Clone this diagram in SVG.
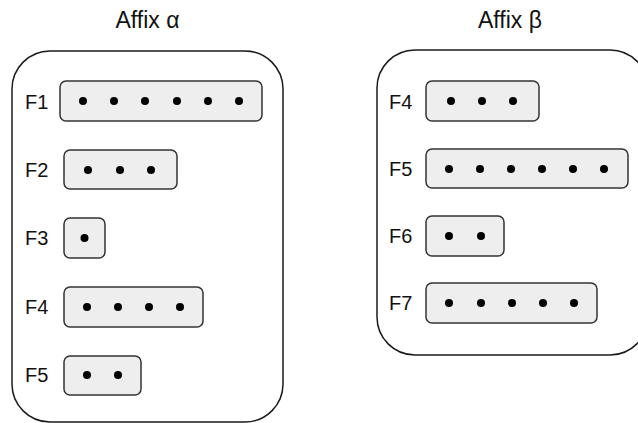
<svg xmlns="http://www.w3.org/2000/svg" width="638" height="423" viewBox="0 0 638 423">
<style>
.cont{fill:#ffffff;stroke:#1a1a1a;stroke-width:1.5}
.box{fill:#eeeeee;stroke:#333333;stroke-width:1.5}
.dot{fill:#000000}
.lbl{font-family:"Liberation Sans",Arial,sans-serif;font-size:20px;fill:#111111}
.ttl{font-family:"Liberation Sans",Arial,sans-serif;font-size:23px;fill:#111111;text-anchor:middle}
</style>
<rect width="638" height="423" fill="#ffffff"/>
<g id="affix-alpha">
<text class="ttl" x="147.5" y="28">Affix α</text>
<rect class="cont" x="12" y="51" width="271" height="371" rx="38" ry="38"/>
<g id="alpha-F1">
<text class="lbl" x="25" y="109">F1</text>
<rect class="box" x="60" y="81" width="202" height="40" rx="6"/>
<circle class="dot" cx="83" cy="101" r="4"/><circle class="dot" cx="114" cy="101" r="4"/><circle class="dot" cx="145" cy="101" r="4"/><circle class="dot" cx="177" cy="101" r="4"/><circle class="dot" cx="208" cy="101" r="4"/><circle class="dot" cx="239" cy="101" r="4"/>
</g>
<g id="alpha-F2">
<text class="lbl" x="25" y="177">F2</text>
<rect class="box" x="64" y="150" width="113" height="39" rx="6"/>
<circle class="dot" cx="88" cy="170" r="4"/><circle class="dot" cx="120" cy="170" r="4"/><circle class="dot" cx="151" cy="170" r="4"/>
</g>
<g id="alpha-F3">
<text class="lbl" x="25" y="245">F3</text>
<rect class="box" x="64" y="218" width="41" height="40" rx="6"/>
<circle class="dot" cx="84.5" cy="238" r="4"/>
</g>
<g id="alpha-F4">
<text class="lbl" x="25" y="314">F4</text>
<rect class="box" x="64" y="287" width="139" height="40" rx="6"/>
<circle class="dot" cx="87" cy="307" r="4"/><circle class="dot" cx="118" cy="307" r="4"/><circle class="dot" cx="149" cy="307" r="4"/><circle class="dot" cx="180" cy="307" r="4"/>
</g>
<g id="alpha-F5">
<text class="lbl" x="25" y="382">F5</text>
<rect class="box" x="64" y="356" width="77" height="39" rx="6"/>
<circle class="dot" cx="87" cy="375" r="4"/><circle class="dot" cx="118" cy="375" r="4"/>
</g>
</g>
<g id="affix-beta">
<text class="ttl" x="510" y="28">Affix β</text>
<rect class="cont" x="377" y="50" width="271" height="305" rx="38" ry="38"/>
<g id="beta-F4">
<text class="lbl" x="389" y="109">F4</text>
<rect class="box" x="426" y="81" width="113" height="40" rx="6"/>
<circle class="dot" cx="451" cy="101" r="4"/><circle class="dot" cx="482" cy="101" r="4"/><circle class="dot" cx="513" cy="101" r="4"/>
</g>
<g id="beta-F5">
<text class="lbl" x="389" y="176">F5</text>
<rect class="box" x="426" y="149" width="202" height="39" rx="6"/>
<circle class="dot" cx="449" cy="169" r="4"/><circle class="dot" cx="480" cy="169" r="4"/><circle class="dot" cx="511" cy="169" r="4"/><circle class="dot" cx="542" cy="169" r="4"/><circle class="dot" cx="573" cy="169" r="4"/><circle class="dot" cx="604" cy="169" r="4"/>
</g>
<g id="beta-F6">
<text class="lbl" x="389" y="243">F6</text>
<rect class="box" x="426" y="216" width="78" height="40" rx="6"/>
<circle class="dot" cx="449" cy="236" r="4"/><circle class="dot" cx="481" cy="236" r="4"/>
</g>
<g id="beta-F7">
<text class="lbl" x="389" y="310">F7</text>
<rect class="box" x="426" y="283" width="171" height="40" rx="6"/>
<circle class="dot" cx="449" cy="303" r="4"/><circle class="dot" cx="481" cy="303" r="4"/><circle class="dot" cx="512" cy="303" r="4"/><circle class="dot" cx="543" cy="303" r="4"/><circle class="dot" cx="574" cy="303" r="4"/>
</g>
</g>
<g id="connectors"/>
</svg>
